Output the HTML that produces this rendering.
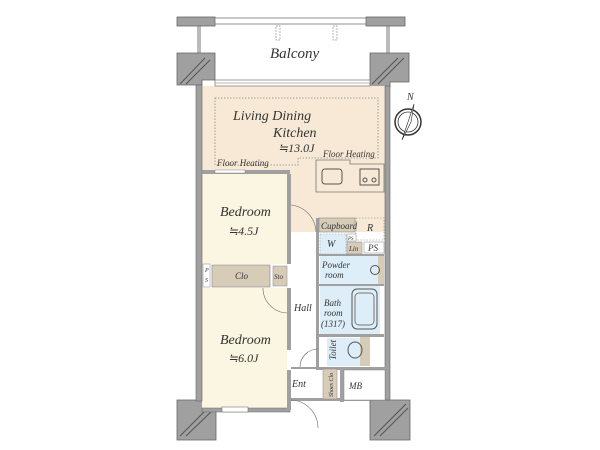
<!DOCTYPE html>
<html><head><meta charset="utf-8"><style>
html,body{margin:0;padding:0;background:#fff;}
svg{display:block;}
text{font-family:"Liberation Serif",serif;font-style:italic;fill:#333;}
</style></head><body>
<svg width="600" height="450" viewBox="0 0 600 450" xmlns="http://www.w3.org/2000/svg">
<!-- balcony -->
<rect x="177" y="17" width="38" height="9" fill="#a0a0a0" stroke="#666" stroke-width="0.8"/>
<rect x="366" y="17" width="39" height="9" fill="#a0a0a0" stroke="#666" stroke-width="0.8"/>
<rect x="215" y="18" width="151" height="6" fill="#fff" stroke="#777" stroke-width="0.8"/>
<line x1="198" y1="26" x2="198" y2="54" stroke="#777"/><line x1="200" y1="26" x2="200" y2="54" stroke="#777"/>
<line x1="387" y1="26" x2="387" y2="54" stroke="#777"/><line x1="389" y1="26" x2="389" y2="54" stroke="#777"/>
<rect x="276" y="26" width="4" height="14" fill="none" stroke="#999" stroke-dasharray="2 1" stroke-width="0.7"/>
<rect x="333" y="26" width="4" height="14" fill="none" stroke="#999" stroke-dasharray="2 1" stroke-width="0.7"/>
<text x="270" y="58" font-size="15">Balcony</text>
<!-- pillars -->
<path d="M177 53 H215 V80 H202 V85 H177 Z" fill="#a0a0a0" stroke="#666" stroke-width="0.8"/>
<path d="M370 53 H409 V82 H390 V87 H370 Z" fill="#a0a0a0" stroke="#666" stroke-width="0.8"/>
<line x1="180" y1="84" x2="205" y2="58" stroke="#555"/><line x1="186" y1="84" x2="210" y2="60" stroke="#555"/>
<line x1="372" y1="84" x2="398" y2="58" stroke="#555"/><line x1="378" y1="84" x2="404" y2="58" stroke="#555"/>
<path d="M177 400 H216 V440 H177 Z" fill="#a0a0a0" stroke="#666" stroke-width="0.8"/>
<path d="M370 400 H410 V440 H370 Z" fill="#a0a0a0" stroke="#666" stroke-width="0.8"/>
<line x1="180" y1="436" x2="212" y2="404" stroke="#555"/><line x1="186" y1="436" x2="215" y2="408" stroke="#555"/>
<line x1="374" y1="436" x2="406" y2="404" stroke="#555"/><line x1="380" y1="436" x2="408" y2="408" stroke="#555"/>
<!-- floors -->
<rect x="202" y="86" width="183" height="146" fill="#f8e9d6"/>
<rect x="202" y="174" width="85" height="90" fill="#fbf6e1"/>
<rect x="202" y="288" width="85" height="120" fill="#fbf6e1"/>
<rect x="291" y="232" width="27" height="137" fill="#fff"/>
<rect x="318" y="233" width="66" height="134" fill="#fff"/>
<rect x="320" y="234" width="28" height="20" fill="#deeef8"/>
<rect x="320" y="256" width="42" height="28" fill="#deeef8"/>
<rect x="362" y="256" width="22" height="28" fill="#deeef8"/>
<rect x="320" y="286" width="30" height="48" fill="#deeef8"/>
<rect x="350" y="286" width="30" height="48" fill="#deeef8"/>
<rect x="327" y="338" width="33" height="28" fill="#deeef8"/>
<!-- outer walls -->
<rect x="196" y="85" width="6" height="316" fill="#a0a0a0" stroke="#666" stroke-width="0.6"/>
<rect x="385" y="86" width="5" height="314" fill="#a0a0a0" stroke="#666" stroke-width="0.6"/>
<rect x="215" y="80" width="155" height="6" fill="#fff" stroke="#777" stroke-width="0.7"/>
<line x1="215" y1="83" x2="370" y2="83" stroke="#777" stroke-width="0.6"/>
<rect x="202" y="408" width="88" height="4" fill="#a0a0a0" stroke="#666" stroke-width="0.5"/>
<rect x="222" y="407" width="26" height="5" fill="#fff" stroke="#777" stroke-width="0.6"/>
<!-- interior walls -->
<rect x="202" y="170" width="88" height="4" fill="#a0a0a0"/>
<rect x="215" y="170" width="30" height="3" fill="#fff" stroke="#888" stroke-width="0.5"/>
<rect x="287" y="174" width="4" height="90" fill="#a0a0a0"/>
<rect x="287" y="288" width="4" height="62" fill="#a0a0a0"/>
<rect x="287" y="370" width="4" height="40" fill="#a0a0a0"/>
<rect x="316" y="218" width="3" height="150" fill="#a0a0a0"/>
<rect x="316" y="367" width="70" height="3" fill="#a0a0a0"/>
<rect x="291" y="367" width="30" height="2" fill="#a0a0a0"/>
<rect x="340" y="367" width="4" height="35" fill="#a0a0a0"/>
<rect x="290" y="398" width="80" height="3" fill="#a0a0a0"/>
<rect x="318" y="334" width="66" height="3" fill="#a0a0a0"/>
<rect x="318" y="284" width="66" height="2" fill="#a0a0a0"/>
<rect x="318" y="254" width="66" height="2" fill="#a0a0a0"/>
<!-- LDK dotted floor heating -->
<path d="M215 98 H378 V158 H298 V165 H215 Z" fill="none" stroke="#888" stroke-width="0.8" stroke-dasharray="1.5 1.5"/>
<text x="233" y="120" font-size="14">Living Dining</text>
<text x="273" y="137" font-size="14">Kitchen</text>
<text x="278" y="152" font-size="12">≒13.0J</text>
<text x="323" y="157" font-size="9">Floor Heating</text>
<text x="217" y="166" font-size="9">Floor Heating</text>
<!-- kitchen -->
<path d="M316 160 H350 V164 H384 V192 H316 Z" fill="#f8e9d6" stroke="#777" stroke-width="0.8"/>
<rect x="322" y="169" width="20" height="15" rx="3" fill="none" stroke="#555"/>
<rect x="360" y="169" width="19" height="16" fill="none" stroke="#555"/>
<circle cx="365" cy="180" r="2" fill="none" stroke="#555"/><circle cx="374" cy="180" r="2" fill="none" stroke="#555"/>
<!-- cupboard etc -->
<rect x="319" y="218" width="36" height="14" fill="#d7ccb7" stroke="#888" stroke-width="0.6"/>
<text x="321" y="229" font-size="9">Cupboard</text>
<rect x="356" y="218" width="28" height="22" fill="none" stroke="#888" stroke-width="0.6" stroke-dasharray="1.5 1.5"/>
<text x="367" y="231" font-size="10">R</text>
<rect x="320" y="234" width="26" height="20" fill="none" stroke="#999" stroke-width="0.6" stroke-dasharray="1.5 1.5"/>
<text x="327" y="247" font-size="10">W</text>
<rect x="347" y="234" width="9" height="7" fill="#fff" stroke="#888" stroke-width="0.5"/>
<text x="348" y="240" font-size="5">PS</text>
<rect x="347" y="242" width="15" height="12" fill="#d7ccb7" stroke="#888" stroke-width="0.5"/>
<text x="349" y="251" font-size="7">Lin</text>
<rect x="364" y="242" width="20" height="11" fill="#fff" stroke="#888" stroke-width="0.5"/>
<text x="368" y="251" font-size="9">PS</text>
<text x="322" y="268" font-size="9">Powder</text>
<text x="325" y="278" font-size="9">room</text>
<rect x="378" y="256" width="6" height="28" fill="#d7ccb7"/>
<circle cx="375" cy="270" r="4.5" fill="none" stroke="#555"/>
<text x="324" y="306" font-size="9">Bath</text>
<text x="324" y="316" font-size="9">room</text>
<text x="321" y="327" font-size="9">(1317)</text>
<rect x="352" y="289" width="25" height="40" rx="5" fill="none" stroke="#555"/>
<rect x="355" y="293" width="19" height="32" rx="4" fill="none" stroke="#777"/>
<text x="336" y="360" font-size="9" transform="rotate(-90 336 360)">Toilet</text>
<rect x="360" y="337" width="10" height="29" fill="#d7ccb7"/>
<ellipse cx="355" cy="350" rx="7" ry="8" fill="none" stroke="#555"/>
<!-- Clo -->
<rect x="203" y="264" width="7" height="23" fill="#fff" stroke="#888" stroke-width="0.5"/>
<text x="205" y="272" font-size="6">P</text><text x="205" y="282" font-size="6">S</text>
<rect x="212" y="265" width="58" height="22" fill="#d7ccb7" stroke="#888" stroke-width="0.6"/>
<text x="235" y="279" font-size="9">Clo</text>
<rect x="273" y="266" width="14" height="20" fill="#d7ccb7" stroke="#888" stroke-width="0.5"/>
<text x="274" y="279" font-size="7">Sto</text>
<text x="220" y="216" font-size="14">Bedroom</text>
<text x="228" y="235" font-size="12">≒4.5J</text>
<text x="220" y="344" font-size="14">Bedroom</text>
<text x="228" y="362" font-size="12">≒6.0J</text>
<text x="294" y="311" font-size="10">Hall</text>
<!-- doors -->
<path d="M291 205 A28 28 0 0 1 316 232" fill="none" stroke="#666" stroke-width="0.6"/>
<path d="M263 288 A25 25 0 0 0 287 313" fill="none" stroke="#666" stroke-width="0.6"/>
<path d="M300 367 A18 18 0 0 1 318 349" fill="none" stroke="#666" stroke-width="0.6"/>
<path d="M291 400 A28 28 0 0 1 318 428" fill="none" stroke="#666" stroke-width="0.6"/>
<text x="292" y="387" font-size="10">Ent</text>
<rect x="323" y="369" width="14" height="30" fill="#d7ccb7" stroke="#888" stroke-width="0.5"/>
<text x="333" y="397" font-size="6" transform="rotate(-90 333 397)">Shoes Clo</text>
<rect x="344" y="370" width="41" height="30" fill="#fff" stroke="#888" stroke-width="0.5"/>
<text x="349" y="389" font-size="9">MB</text>
<!-- compass -->
<circle cx="408" cy="122" r="13" fill="#fff" stroke="#333" stroke-width="1.5"/>
<circle cx="408" cy="122" r="10" fill="none" stroke="#333" stroke-width="0.8"/>
<path d="M414 104 L402 140 L408 124 Z" fill="#222"/>
<path d="M414 104 L402 140 L411 122 Z" fill="#fff" stroke="#222" stroke-width="0.6"/>
<text x="407" y="100" font-size="10">N</text>
</svg>
</body></html>
